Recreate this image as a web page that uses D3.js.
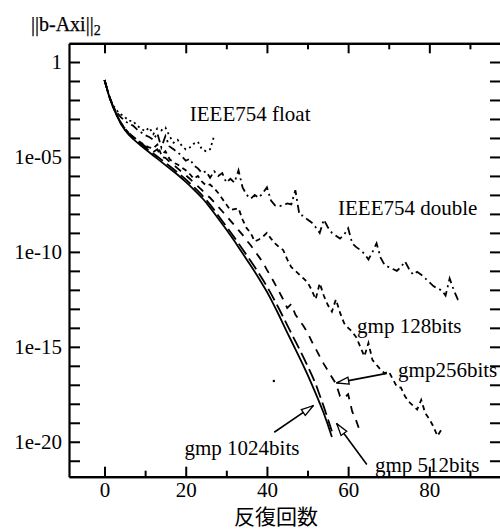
<!DOCTYPE html>
<html>
<head>
<meta charset="utf-8">
<script src="https://cdn.jsdelivr.net/npm/d3@7"></script>
<style>
  body { margin: 0; background: #fff; }
  svg { display: block; }
</style>
</head>
<body>
<div id="chart-area"></div>
<script>
// log10 of the residual ||b-Axi||_2, one value per iteration (index = iteration)
const gmp1024 = [-0.95, -1.7, -2.3, -2.8, -3.25, -3.58, -3.84, -4.05, -4.23, -4.41,
  -4.58, -4.75, -4.92, -5.09, -5.26, -5.43, -5.6, -5.77, -5.94, -6.12,
  -6.31, -6.51, -6.72, -6.93, -7.15, -7.4, -7.67, -7.95, -8.24, -8.53,
  -8.82, -9.12, -9.43, -9.75, -10.07, -10.4, -10.72, -11.05, -11.39, -11.74,
  -12.1, -12.5, -12.92, -13.35, -13.8, -14.25, -14.68, -15.12, -15.56, -16.0,
  -16.47, -16.95, -17.45, -17.97, -18.5, -19.1, -19.75];
const gmp512 = [-0.95, -1.7, -2.3, -2.78, -3.2, -3.52, -3.78, -3.98, -4.16, -4.33,
  -4.5, -4.66, -4.82, -4.98, -5.14, -5.31, -5.48, -5.65, -5.82, -6.0,
  -6.18, -6.38, -6.58, -6.79, -7.01, -7.25, -7.51, -7.79, -8.08, -8.37,
  -8.66, -8.95, -9.25, -9.55, -9.86, -10.17, -10.48, -10.8, -11.13, -11.47,
  -11.82, -12.2, -12.6, -13.01, -13.43, -13.86, -14.28, -14.7, -15.12, -15.56,
  -16.0, -16.47, -16.95, -17.55, -18.15, -18.8, -19.45];
const gmp256 = [-0.95, -1.72, -2.32, -2.79, -3.2, -3.5, -3.74, -3.93, -4.1, -4.27,
  -4.43, -4.59, -4.74, -4.6, -5.0, -5.05, -5.25, -5.42, -5.6, -5.78,
  -5.96, -6.15, -6.35, -6.55, -6.75, -6.97, -7.15, -7.38, -7.62, -7.86,
  -8.1, -8.35, -8.6, -8.85, -9.1, -9.4, -9.65, -9.95, -10.25, -10.55,
  -10.95, -11.3, -11.7, -12.1, -12.5, -12.95, -12.75, -13.3, -13.6, -13.9,
  -14.25, -14.7, -15.1, -15.5, -15.9, -16.25, -16.6, -16.95, -17.6, -17.7,
  -17.5, -18.4, -18.9, -19.5];
const gmp128 = [-0.95, -1.72, -2.32, -2.8, -3.2, -3.5, -3.75, -3.93, -4.1, -4.25,
  -4.4, -4.5, -4.55, -4.35, -4.9, -4.7, -5.1, -5.3, -5.4, -5.55,
  -5.7, -5.9, -6.15, -6.0, -6.3, -6.5, -6.45, -6.65, -6.9, -7.2,
  -7.5, -7.8, -7.75, -7.7, -8.3, -8.75, -9.0, -9.45, -9.35, -9.2,
  -9.0, -9.3, -9.55, -9.75, -9.9, -10.4, -10.8, -11.0, -11.2, -11.4,
  -11.6, -12.0, -12.5, -11.65, -12.3, -12.8, -13.15, -12.5, -13.2, -13.75,
  -14.0, -14.2, -14.5, -15.0, -15.5, -14.8, -15.7, -15.95, -16.2, -16.4,
  -16.3, -16.7, -17.1, -17.15, -17.6, -17.9, -18.1, -18.3, -17.8, -18.5,
  -18.8, -19.2, -19.7, -19.35];
const ieeeDouble = [-0.95, -1.72, -2.3, -2.65, -2.9, -3.1, -3.25, -3.35, -3.55, -3.7,
  -3.85, -3.95, -4.1, -3.75, -4.5, -3.9, -4.45, -4.6, -4.75, -4.95,
  -5.2, -5.1, -5.45, -5.6, -5.85, -5.75, -6.1, -5.75, -6.0, -5.85,
  -6.35, -6.15, -6.35, -5.7, -6.6, -7.0, -7.2, -7.0, -7.15, -6.9,
  -6.6, -7.3, -7.55, -7.6, -7.55, -7.45, -7.5, -6.75, -8.05, -8.1,
  -8.3, -8.45, -8.7, -9.0, -8.3, -8.7, -9.0, -9.15, -9.3, -9.1,
  -8.75, -9.55, -9.75, -9.9, -10.1, -10.4, -10.0, -9.55, -10.3, -10.7,
  -10.8, -10.9, -11.0, -10.8, -10.5, -10.9, -11.2, -11.05, -11.2, -11.4,
  -11.6, -11.8, -11.95, -12.0, -12.3, -11.4, -12.0, -12.5, -12.4];
const ieeeFloat = [-0.95, -1.7, -2.25, -2.55, -2.75, -2.9, -3.1, -3.1, -3.35, -3.5,
  -3.65, -3.45, -3.8, -3.5, -3.6, -3.45, -3.9, -4.25, -4.1, -4.4,
  -4.6, -4.5, -4.3, -4.2, -4.6, -4.7, -4.6, -3.9];
// a lone stray point visible on the plot
const strayPoints = [[41.7, -16.8]];

const yTickValues = [1, 1e-5, 1e-10, 1e-15, 1e-20];
const yTickLabels = ["1", "1e-05", "1e-10", "1e-15", "1e-20"];
const xMajorTicks = [0, 20, 40, 60, 80];
const xMinorTicks = [10, 30, 50, 70, 90];

const series = [
  { name: "gmp 1024bits", values: gmp1024, dash: null },
  { name: "gmp 512bits", values: gmp512, dash: "13,5" },
  { name: "gmp256bits", values: gmp256, dash: "8,7" },
  { name: "gmp 128bits", values: gmp128, dash: "5,4" },
  { name: "IEEE754 double", values: ieeeDouble, dash: "8,4,2,4" },
  { name: "IEEE754 float", values: ieeeFloat, dash: "2,3.5" }
];

// labels: [text, iteration, log10 residual] at text start / baseline
const labels = [
  ["IEEE754 float", 21.0, -3.1],
  ["IEEE754 double", 57.5, -8.06],
  ["gmp 128bits", 62.2, -14.27],
  ["gmp256bits", 72.3, -16.57],
  ["gmp 1024bits", 19.7, -20.7],
  ["gmp 512bits", 66.6, -21.58]
];
// arrows: from [iter, log10] to [iter, log10]
const arrows = [
  [[69.5, -16.4], [57.2, -16.9]],
  [[41.8, -19.5], [51.4, -18.1]],
  [[64.6, -21.2], [57.2, -19.05]]
];

const width = 500, height = 529;
const plotLeft = 69, plotRight = 501, plotTop = 43.3, plotBottom = 476.7;
const serif = '"Liberation Serif", "Times New Roman", Times, serif';

const svg = d3.select("#chart-area").append("svg")
    .attr("width", width)
    .attr("height", height);

const x = d3.scaleLinear().domain([-8.75, 97.65]).range([plotLeft, plotRight]);
const y = d3.scaleLog().domain([Math.pow(10, 0.985), Math.pow(10, -21.84)]).range([plotTop, plotBottom]);

const allDecades = d3.range(0, -22, -1).map(e => Math.pow(10, e));

// axes (ticks drawn inward on all four sides)
const axes = [];
axes.push(svg.append("g").attr("transform", `translate(0,${plotBottom})`)
    .call(d3.axisBottom(x).tickValues(xMajorTicks).tickSize(-10).tickSizeOuter(0).tickPadding(5)));
axes.push(svg.append("g").attr("transform", `translate(0,${plotBottom})`)
    .call(d3.axisBottom(x).tickValues(xMinorTicks).tickSize(-6).tickSizeOuter(0).tickFormat("")));
axes.push(svg.append("g").attr("transform", `translate(0,${plotTop})`)
    .call(d3.axisTop(x).tickValues(xMajorTicks).tickSize(-10).tickSizeOuter(0).tickFormat("")));
axes.push(svg.append("g").attr("transform", `translate(0,${plotTop})`)
    .call(d3.axisTop(x).tickValues(xMinorTicks).tickSize(-6).tickSizeOuter(0).tickFormat("")));
axes.push(svg.append("g").attr("transform", `translate(${plotLeft},0)`)
    .call(d3.axisLeft(y).tickValues(allDecades).tickSize(-11).tickSizeOuter(0).tickPadding(7)
      .tickFormat(d => {
        const i = yTickValues.findIndex(v => Math.abs(Math.log10(v) - Math.log10(d)) < 1e-6);
        return i >= 0 ? yTickLabels[i] : "";
      })));
axes.push(svg.append("g").attr("transform", `translate(${plotRight},0)`)
    .call(d3.axisRight(y).tickValues(allDecades).tickSize(-11).tickSizeOuter(0).tickFormat("")));

axes.forEach(g => g.attr("font-family", serif).attr("font-size", 21));
svg.selectAll(".tick text").attr("fill", "#000");
svg.selectAll(".domain").attr("stroke", "#000").attr("stroke-width", 2.2);
svg.selectAll(".tick line").attr("stroke", "#000").attr("stroke-width", 2);

// curves
const line = d3.line()
    .x((d, i) => x(i))
    .y(d => y(Math.pow(10, d)));

svg.append("g").selectAll("path")
  .data(series)
  .enter()
  .append("path")
    .attr("d", d => line(d.values))
    .attr("fill", "none")
    .attr("stroke", "#000")
    .attr("stroke-width", 1.8)
    .attr("stroke-dasharray", d => d.dash);

svg.selectAll(".stray")
  .data(strayPoints)
  .enter()
  .append("circle")
    .attr("class", "stray")
    .attr("cx", d => x(d[0]))
    .attr("cy", d => y(Math.pow(10, d[1])))
    .attr("r", 1.2)
    .attr("fill", "#000");

// arrows with open triangle heads
svg.append("defs").append("marker")
    .attr("id", "head")
    .attr("viewBox", "0 0 14 10")
    .attr("refX", 13).attr("refY", 5)
    .attr("markerWidth", 14).attr("markerHeight", 10)
    .attr("markerUnits", "userSpaceOnUse")
    .attr("orient", "auto")
  .append("path")
    .attr("d", "M1,1.5 L13,5 L1,8.5 Z")
    .attr("fill", "#fff")
    .attr("stroke", "#000")
    .attr("stroke-width", 1.3);

svg.selectAll(".arrow")
  .data(arrows)
  .enter()
  .append("line")
    .attr("class", "arrow")
    .attr("x1", d => x(d[0][0]))
    .attr("y1", d => y(Math.pow(10, d[0][1])))
    .attr("x2", d => x(d[1][0]))
    .attr("y2", d => y(Math.pow(10, d[1][1])))
    .attr("stroke", "#000")
    .attr("stroke-width", 1.6)
    .attr("marker-end", "url(#head)");

// curve labels
svg.selectAll(".label")
  .data(labels)
  .enter()
  .append("text")
    .attr("class", "label")
    .attr("x", d => x(d[1]))
    .attr("y", d => y(Math.pow(10, d[2])))
    .attr("font-family", serif)
    .attr("font-size", 21)
    .attr("fill", "#000")
    .text(d => d[0]);

// axis titles
const yTitle = svg.append("text")
    .attr("x", 31)
    .attr("y", 31)
    .attr("font-family", serif)
    .attr("font-size", 20)
    .attr("fill", "#000")
    .attr("stroke", "#000")
    .attr("stroke-width", 0.25);
yTitle.append("tspan").text("||b-Axi||");
yTitle.append("tspan").attr("font-size", 14).attr("dy", 4).text("2");

svg.append("text")
    .attr("x", 276)
    .attr("y", 524)
    .attr("text-anchor", "middle")
    .attr("font-family", '"Noto Sans CJK JP", "Noto Sans CJK SC", sans-serif')
    .attr("font-size", 21)
    .attr("fill", "#000")
    .text("反復回数");
</script>
</body>
</html>
